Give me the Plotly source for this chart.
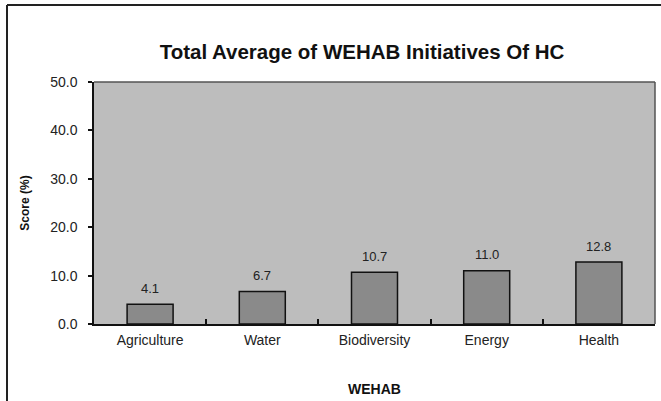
import plotly.graph_objects as go

categories = ["Agriculture", "Water", "Biodiversity", "Energy", "Health"]
scores = [4.1, 6.7, 10.7, 11.0, 12.8]
y_ticks = [0, 10, 20, 30, 40, 50]
y_tick_labels = ["0.0", "10.0", "20.0", "30.0", "40.0", "50.0"]

W, H = 661, 401
L, R, T, B = 94, 6, 82, 77
pw, ph = W - L - R, H - T - B

def px_x(x):
    return (x - L) / pw

def px_y(y):
    return (H - B - y) / ph

fig = go.Figure(go.Bar(
    x=categories, y=scores,
    marker=dict(color="#8a8a8a", line=dict(color="#111111", width=1.5)),
    width=0.41, hoverinfo="skip",
))

annotations = [
    dict(x=c, y=v, xref="x", yref="y", text=f"{v:.1f}", showarrow=False,
         yshift=16, yanchor="middle",
         font=dict(family="Liberation Sans, Arial", size=13, color="#222222"))
    for c, v in zip(categories, scores)
]

fig.update_layout(
    width=W, height=H,
    margin=dict(l=L, r=R, t=T, b=B),
    paper_bgcolor="white", plot_bgcolor="#bdbdbd",
    showlegend=False,
    font=dict(family="Liberation Sans, Arial", color="#222222"),
    title=dict(text="<b>Total Average of WEHAB Initiatives Of HC</b>",
               x=px_x(362), xref="paper", xanchor="center",
               y=1 - 52 / H, yref="container", yanchor="middle",
               font=dict(size=20.5, color="#111111")),
    xaxis=dict(
        type="category", tickson="boundaries", ticks="inside", ticklen=5,
        tickcolor="#111111", tickwidth=1.5,
        showline=True, linecolor="#111111", linewidth=1.5, mirror=False,
        tickfont=dict(size=14, color="#222222"), ticklabelstandoff=2,
        title=dict(text="<b>WEHAB</b>", font=dict(size=14, color="#111111"), standoff=38),
        showgrid=False,
    ),
    yaxis=dict(
        range=[0, 50], tickvals=y_ticks, ticktext=y_tick_labels,
        ticks="outside", ticklen=4, tickcolor="#111111", tickwidth=1.5,
        showline=True, linecolor="#111111", linewidth=1.5,
        tickfont=dict(size=14, color="#222222"), ticklabelstandoff=8,
        title=dict(text="<b>Score (%)</b>", font=dict(size=12, color="#111111"), standoff=18),
        showgrid=False, zeroline=False,
    ),
    annotations=annotations,
    shapes=[
        # plot area top and right border
        dict(type="line", xref="paper", yref="paper", x0=0, x1=1, y0=1, y1=1,
             line=dict(color="#555555", width=1.5)),
        dict(type="line", xref="paper", yref="paper", x0=1, x1=1, y0=0, y1=1,
             line=dict(color="#555555", width=1.5)),
        # outer frame (top and left)
        dict(type="line", xref="paper", yref="paper", x0=px_x(7), x1=px_x(661),
             y0=px_y(5), y1=px_y(5), line=dict(color="#222222", width=2)),
        dict(type="line", xref="paper", yref="paper", x0=px_x(7), x1=px_x(7),
             y0=px_y(5), y1=px_y(401), line=dict(color="#222222", width=2)),
    ],
)

fig.write_html("out.html", config={"displayModeBar": False},
               post_script="document.body.style.margin='0';")
